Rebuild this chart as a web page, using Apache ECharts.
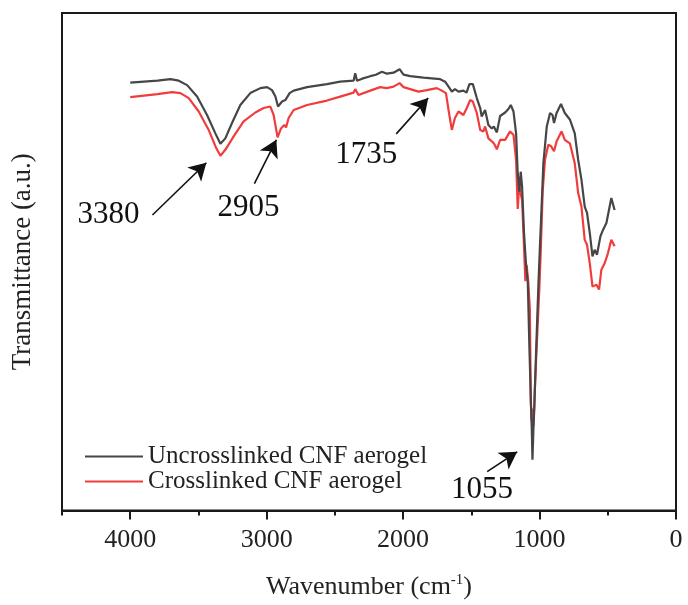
<!DOCTYPE html>
<html>
<head>
<meta charset="utf-8">
<script src="https://cdn.jsdelivr.net/npm/echarts@6/dist/echarts.min.js"></script>
<style>
  html, body { margin: 0; padding: 0; background: #fff; }
  #chart { width: 688px; height: 605px; }
</style>
</head>
<body>
<div id="chart"></div>
<script>
// ---- Data ----
const seriesNames = ['Uncrosslinked CNF aerogel', 'Crosslinked CNF aerogel'];

const grayWn = [4000,3900,3800,3705,3645,3583,3510,3437,3376,3339,3303,3254,3193,3120,3046,2997,2961,2936,2917,2887,2863,2850,2832,2802,2704,2558,2461,2363,2351,2338,2300,2241,2200,2155,2119,2070,2026,1997,1948,1851,1728,1692,1667,1643,1620,1594,1558,1535,1514,1489,1460,1435,1424,1411,1399,1375,1350,1335,1313,1289,1252,1228,1211,1191,1172,1160,1148,1138,1128,1114,1099,1093,1086,1074,1064,1057,1052,1045,1038,1025,1008,996,991,972,947,923,905,894,875,843,815,778,742,717,693,669,652,632,612,596,579,554,535,510,474,450];
const grayT = [86.0,86.2,86.4,86.7,86.4,85.5,83.2,79.5,75.8,73.7,74.8,77.9,81.5,83.9,84.9,85.1,84.5,83.2,81.2,82.2,82.5,82.3,83.9,84.4,85.1,85.7,86.2,86.4,87.9,86.4,86.8,87.3,87.6,88.2,87.8,88.0,88.7,87.6,87.3,87.0,86.7,86.2,85.2,84.2,84.7,84.2,84.4,84.0,85.7,85.7,82.9,80.9,79.2,79.4,80.5,77.5,76.8,77.2,76.0,79.3,80.0,80.7,81.5,80.2,75.8,67.8,64.1,68.1,65.1,55.8,49.4,49.6,45.7,32.3,22.3,16.3,10.2,16.3,20.9,32.3,45.7,54.0,57.1,69.8,77.2,79.9,79.5,77.9,79.9,81.7,79.9,78.6,75.8,70.5,66.5,61.1,59.8,55.8,51.1,52.4,51.4,55.1,56.4,57.8,62.8,60.4];

const redWn = [4000,3900,3800,3693,3632,3571,3498,3425,3369,3339,3303,3242,3169,3083,3022,2973,2949,2920,2895,2871,2858,2839,2802,2704,2558,2461,2363,2351,2327,2314,2241,2168,2120,2070,2026,1997,1948,1887,1826,1753,1717,1686,1667,1643,1620,1594,1558,1533,1509,1489,1460,1435,1411,1399,1375,1350,1333,1313,1289,1252,1216,1191,1172,1160,1150,1140,1128,1114,1104,1095,1083,1071,1064,1058,1052,1046,1040,1033,1001,991,977,960,936,915,894,875,839,815,778,742,717,693,669,652,632,612,583,564,547,523,499,474,450];
const redT = [83.1,83.4,83.7,84.1,83.9,82.9,80.2,76.5,72.8,71.3,72.5,75.2,78.2,80.0,80.9,81.2,79.5,75.0,76.8,77.5,77.0,78.9,80.5,81.5,82.4,83.2,84.0,84.7,83.5,83.2,84.4,85.1,84.9,85.2,85.9,85.1,84.7,84.2,84.5,84.9,84.4,83.9,80.5,76.5,78.9,80.2,79.5,80.9,82.5,82.2,79.9,76.5,76.2,77.2,74.8,74.2,73.7,72.6,74.5,74.5,76.2,75.5,70.5,60.6,65.1,65.5,62.4,53.1,46.1,49.4,46.1,40.4,21.6,18.0,20.5,17.0,20.3,25.6,45.0,52.4,64.2,70.5,73.5,73.2,72.2,74.2,76.2,74.5,73.8,69.8,63.8,61.1,54.4,53.4,49.7,45.0,45.4,44.4,48.4,49.7,51.7,54.4,53.1];

// Peak annotations (data coordinates: wavenumber, transmittance)
const annoLabels = ['3380', '2905', '1735', '1055'];
const annoTextPos = [[4159, 59.4], [3134, 60.8], [2270, 71.5], [1421, 4.2]];
const arrowTail = [[3837, 59.4], [3090, 65.7], [2050, 75.7], [1384, 7.8]];
const arrowHead = [[3442, 69.9], [2929, 74.5], [1816, 82.9], [1164, 11.8]];

// X axis tick settings
const xMin = 0, xMax = 4500, xMajor = 1000, xMinor = 500;

// ---- Chart ----
const FONT = "'Liberation Serif', 'Times New Roman', 'DejaVu Serif', serif";
const zip = (a, b) => a.map((v, i) => [v, b[i]]);

const chart = echarts.init(document.getElementById('chart'), null, { renderer: 'canvas' });

const option = {
  animation: false,
  backgroundColor: '#ffffff',
  textStyle: { fontFamily: FONT },
  grid: {
    left: 62, right: 12, top: 13, bottom: 94,
    show: true, borderColor: '#1a1a1a', borderWidth: 2, backgroundColor: 'transparent'
  },
  legend: {
    orient: 'vertical',
    left: 80, top: 439,
    icon: 'rect',
    itemWidth: 58, itemHeight: 2,
    itemGap: 0,
    data: seriesNames,
    textStyle: { fontFamily: FONT, fontSize: 25, color: '#222', lineHeight: 25, padding: [0, 0, 0, 0] }
  },
  xAxis: [{
    type: 'value',
    inverse: true,
    min: xMin, max: xMax, interval: xMajor,
    position: 'bottom',
    name: '{a|Wavenumber (cm}{sup|-1}{a|)}',
    nameLocation: 'middle',
    nameGap: 62,
    nameTextStyle: {
      rich: {
        a: { fontFamily: FONT, fontSize: 26, color: '#222' },
        sup: { fontFamily: FONT, fontSize: 15, color: '#222', padding: [0, 0, 14, 0] }
      }
    },
    axisLine: { show: true, lineStyle: { color: '#1a1a1a', width: 2 } },
    axisTick: { show: true, inside: false, length: 9, lineStyle: { color: '#1a1a1a', width: 2 } },
    axisLabel: {
      show: true, margin: 17, fontFamily: FONT, fontSize: 26, color: '#222', showMaxLabel: false,
      formatter: v => String(v)
    },
    splitLine: { show: false }
  }, {
    type: 'value',
    inverse: true,
    min: xMin, max: xMax, interval: xMinor,
    position: 'bottom',
    axisLine: { show: false },
    axisTick: { show: true, inside: false, length: 5, lineStyle: { color: '#1a1a1a', width: 2 } },
    axisLabel: { show: false },
    splitLine: { show: false }
  }],
  yAxis: {
    type: 'value',
    min: 0, max: 100,
    name: 'Transmittance (a.u.)',
    nameLocation: 'middle',
    nameGap: 26,
    nameTextStyle: { fontFamily: FONT, fontSize: 27, color: '#222' },
    axisLine: { show: false },
    axisTick: { show: false },
    axisLabel: { show: false },
    splitLine: { show: false }
  },
  series: [
    {
      name: seriesNames[0],
      type: 'line',
      xAxisIndex: 0,
      data: zip(grayWn, grayT),
      showSymbol: false,
      symbol: 'none',
      smooth: false,
      lineStyle: { color: '#464646', width: 2.2 },
      itemStyle: { color: '#464646' },
      z: 3,
      markLine: {
        silent: true,
        symbol: ['none', 'arrow'],
        symbolSize: [15, 17],
        label: { show: false },
        lineStyle: { color: '#111', width: 1.6, type: 'solid' },
        data: arrowTail.map((t, i) => [{ coord: t }, { coord: arrowHead[i] }])
      }
    },
    {
      name: seriesNames[1],
      type: 'line',
      xAxisIndex: 0,
      data: zip(redWn, redT),
      showSymbol: false,
      symbol: 'none',
      smooth: false,
      lineStyle: { color: '#f23c3c', width: 2.2 },
      itemStyle: { color: '#f23c3c' },
      z: 2
    },
    {
      name: 'labels',
      type: 'scatter',
      xAxisIndex: 0,
      symbolSize: 0,
      silent: true,
      itemStyle: { opacity: 1 },
      emphasis: { disabled: true },
      data: annoLabels.map((s, i) => ({ name: s, value: annoTextPos[i] })),
      label: {
        show: true,
        position: 'inside',
        formatter: p => p.name,
        fontFamily: FONT,
        fontSize: 31,
        color: '#111',
        opacity: 1
      }
    }
  ]
};

chart.setOption(option);
</script>
</body>
</html>
